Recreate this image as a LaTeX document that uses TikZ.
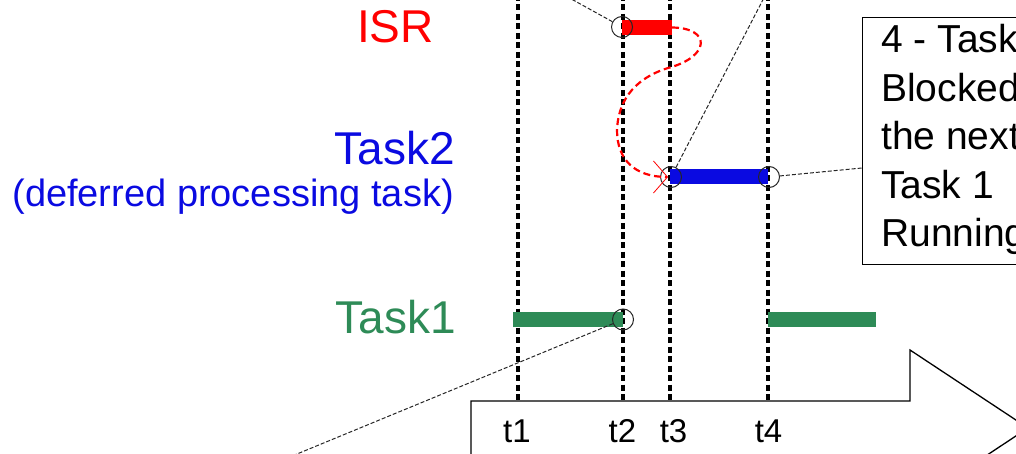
\documentclass[tikz,border=0pt]{standalone}
\usepackage{fontspec}
\setmainfont{Liberation Sans}
\usetikzlibrary{arrows.meta,calc}
\definecolor{isrred}{RGB}{255,0,0}
\definecolor{tblue}{RGB}{10,10,225}
\definecolor{tgreen}{RGB}{46,139,87}
\begin{document}
\begin{tikzpicture}[x=1pt,y=-1pt,
  vline/.style={line width=3.6pt, dash pattern=on 6pt off 3.5pt, black},
  callout/.style={line width=1pt, dash pattern=on 4pt off 2pt, black!85},
  markc/.style={circle, draw=black!85, line width=1pt, minimum size=21pt, inner sep=0pt},
  bar/.style={line width=15pt},
  lbl/.style={inner sep=0pt, font=\fontsize{46}{55}\selectfont},
  tlbl/.style={inner sep=0pt, anchor=base, font=\fontsize{33}{40}\selectfont},
  ]
\useasboundingbox (0,0) rectangle (1016,454);
\begin{scope}
\clip (0,0) rectangle (1016,454);

% time arrow
\draw[line width=1.3pt, line join=miter] (471,470) -- (471,401) -- (910,401) -- (910,350) -- (1028,428) -- (910,506);

% time markers
\coordinate (t1top) at (518,-5);  \coordinate (t1bot) at (518,401);
\coordinate (t2top) at (623,-5);  \coordinate (t2bot) at (623,401);
\coordinate (t3top) at (670,-5);  \coordinate (t3bot) at (670,401);
\coordinate (t4top) at (768,-5);  \coordinate (t4bot) at (768,401);
\draw[vline] (t1top) -- (t1bot);
\draw[vline] (t2top) -- (t2bot);
\draw[vline] (t3top) -- (t3bot);
\draw[vline] (t4top) -- (t4bot);

\node[tlbl] (l1) at (517,442) {t1};
\node[tlbl] (l2) at (622.5,442) {t2};
\node[tlbl] (l3) at (673.5,442) {t3};
\node[tlbl] (l4) at (768.5,442) {t4};

% row labels
\node[lbl, anchor=base east, text=isrred] (isr) at (434,43) {ISR};
\node[lbl, anchor=base east, text=tblue] (task2) at (455,165) {Task2};
\node[inner sep=0pt, anchor=base east, text=tblue, font=\fontsize{38}{46}\selectfont] (defer) at (454,207) {(deferred processing task)};
\node[lbl, anchor=base east, text=tgreen] (task1) at (456,333) {Task1};

% bars
\coordinate (isrA) at (622,27.5);  \coordinate (isrB) at (672,27.5);
\coordinate (tkbA) at (670,177);   \coordinate (tkbB) at (768,177);
\coordinate (tg1A) at (513,319.5); \coordinate (tg1B) at (623,319.5);
\coordinate (tg2A) at (768,319.5); \coordinate (tg2B) at (876,319.5);
\draw[bar, isrred] (isrA) -- (isrB);
\draw[bar, tblue] (tkbA) -- (tkbB);
\draw[bar, tgreen] (tg1A) -- (tg1B);
\draw[bar, tgreen] (tg2A) -- (tg2B);

% event circles
\node[markc] (cisr) at (622,27) {};
\node[markc] (c2a) at (671,177) {};
\node[markc] (c2b) at (769,177) {};
\node[markc] (c1) at (623,319.5) {};

% note box
\node[draw, line width=1.2pt, anchor=north west, minimum width=300pt, minimum height=247pt, inner sep=0pt] (box) at (862,17) {};
\node[inner sep=0pt, anchor=north west, align=left, font=\fontsize{39}{48.5}\selectfont] (boxtext) at (881,24.5)
  {4 - Task\\Blocked\\the next\\Task 1\\Running};
\coordinate (boxin) at (862,168);

% callout lines
\coordinate (isrfar) at (555,-10);
\coordinate (t2far) at (768,-10);
\coordinate (t1far) at (280,461);
\draw[callout] (cisr) -- (isrfar);
\draw[callout] (c2a) -- (t2far);
\draw[callout] (c2b) -- (boxin);
\draw[callout] (c1) -- (t1far);

% ISR -> Task2 hand-off
\draw[isrred, line width=2.2pt, dash pattern=on 7pt off 4pt,
      -{Straight Barb[length=14pt, width=32pt, line width=0.8pt]}]
  (isrB) .. controls (712,28) and (710,57) .. (668,68)
         .. controls (630,80) and (618,105) .. (617,130)
         .. controls (617,160) and (635,177) .. (668,177);
\end{scope}
\end{tikzpicture}
\end{document}
